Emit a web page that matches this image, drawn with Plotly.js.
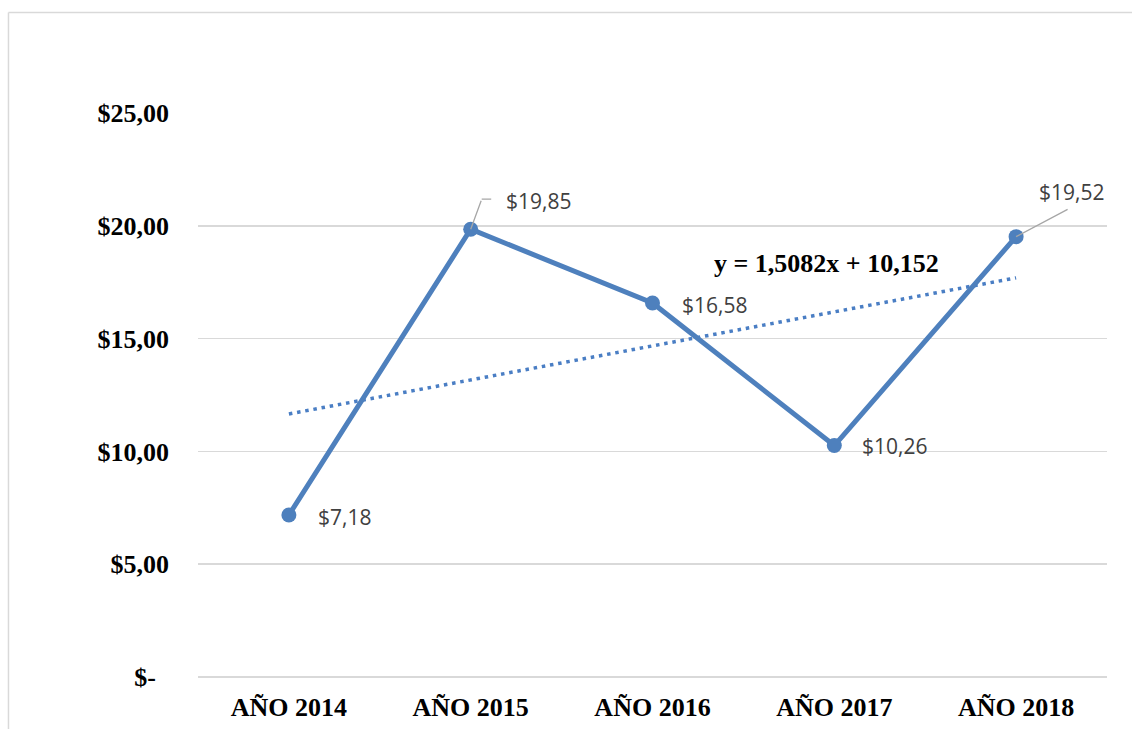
<!DOCTYPE html>
<html>
<head>
<meta charset="utf-8">
<script src="https://cdn.plot.ly/plotly-3.0.1.min.js"></script>
<style>
html,body{margin:0;padding:0;background:#fff;overflow:hidden;}
#chart{width:1132px;height:729px;}
</style>
</head>
<body>
<div id="chart"></div>
<script>
// ---- data ----
const categories = ["AÑO 2014", "AÑO 2015", "AÑO 2016", "AÑO 2017", "AÑO 2018"];
const values = [7.18, 19.85, 16.58, 10.26, 19.52];
const trendSlope = 1.5082;
const trendIntercept = 10.152;
const yTickVals = [0, 5, 10, 15, 20, 25];
const yTickText = ["$-\u00a0\u00a0", "$5,00", "$10,00", "$15,00", "$20,00", "$25,00"];
const equationText = "y = 1,5082x + 10,152";

// ---- derived ----
const trendY = categories.map((c, i) => trendSlope * (i + 1) + trendIntercept);
const fmt = v => "$" + v.toFixed(2).replace(".", ",");

const blue = "#4E80BD";
const gray = "#D9D9D9";

const traces = [
  {
    x: categories, y: trendY, type: "scatter", mode: "lines",
    line: {color: "#4A7EC4", width: 3.5, dash: "3.5px,4.8px"},
    hoverinfo: "skip", showlegend: false
  },
  {
    x: categories, y: values, type: "scatter", mode: "lines+markers",
    line: {color: blue, width: 5},
    marker: {color: blue, size: 15},
    showlegend: false
  }
];

// label placement (pixel offsets from each point)
const labelPlace = [
  {xshift: 27, yshift: -2},
  {xshift: 33, yshift: 28},
  {xshift: 27, yshift: -2},
  {xshift: 26, yshift: 0},
  {xshift: 21, yshift: 45}
];

const labelFont = {family: "Open Sans, Noto Sans, sans-serif", size: 21, color: "#404040"};
const annotations = values.map((v, i) => ({
  x: categories[i], y: v, xref: "x", yref: "y",
  text: fmt(v), showarrow: false, xanchor: "left", yanchor: "middle",
  xshift: labelPlace[i].xshift, yshift: labelPlace[i].yshift,
  font: labelFont
}));

// leader lines
const leaderColor = "#A6A6A6";
annotations.push(
  {x: categories[1], y: values[1], xref: "x", yref: "y", text: "", showarrow: true,
   arrowhead: 0, arrowwidth: 1.3, arrowcolor: leaderColor, ax: 11, ay: -30, standoff: 0, startstandoff: 0},
  {x: categories[1], y: values[1], xref: "x", yref: "y", text: "", showarrow: true,
   arrowhead: 0, arrowwidth: 1.3, arrowcolor: leaderColor, ax: 11, ay: 0, xshift: 11, yshift: 30},
  {x: categories[4], y: values[4], xref: "x", yref: "y", text: "", showarrow: true,
   arrowhead: 0, arrowwidth: 1.3, arrowcolor: leaderColor, ax: 53, ay: -28}
);

// trendline equation
annotations.push({
  xref: "paper", yref: "paper", x: 0.691, y: 0.734, text: "<b>" + equationText + "</b>",
  showarrow: false, xanchor: "center", yanchor: "middle",
  font: {family: "Liberation Serif, Times New Roman, serif", size: 26, color: "#000"}
});

const tickFont = {family: "Liberation Serif, Times New Roman, serif", size: 26, color: "#000", weight: "bold"};

const layout = {
  width: 1132, height: 729,
  margin: {l: 198, r: 25, t: 113, b: 52},
  paper_bgcolor: "#fff", plot_bgcolor: "#fff",
  showlegend: false,
  xaxis: {
    type: "category", range: [-0.5, 4.5], autorange: false,
    showgrid: false, zeroline: false, showline: false,
    ticks: "", tickfont: tickFont, ticklabelstandoff: 12,
    tickvals: categories, ticktext: categories.map(c => "<b>" + c + "</b>")
  },
  yaxis: {
    range: [0, 25], autorange: false,
    tickvals: yTickVals, ticktext: yTickText.map(t => "<b>" + t + "</b>"),
    showgrid: true, gridcolor: gray, gridwidth: 1.5,
    zeroline: true, zerolinecolor: gray, zerolinewidth: 1.5, showline: false, ticks: "",
    tickfont: tickFont, ticklabelstandoff: 28
  },
  annotations: annotations,
  shapes: [
    {type: "line", xref: "paper", yref: "paper", x0: -0.2085, x1: -0.2085, y0: 1.178, y1: -0.3,
     line: {color: gray, width: 1.5}},
    {type: "line", xref: "paper", yref: "paper", x0: -0.2085, x1: 1.2, y0: 1.178, y1: 1.178,
     line: {color: gray, width: 1.5}}
  ]
};

Plotly.newPlot("chart", traces, layout, {displayModeBar: false, staticPlot: true});
</script>
</body>
</html>
